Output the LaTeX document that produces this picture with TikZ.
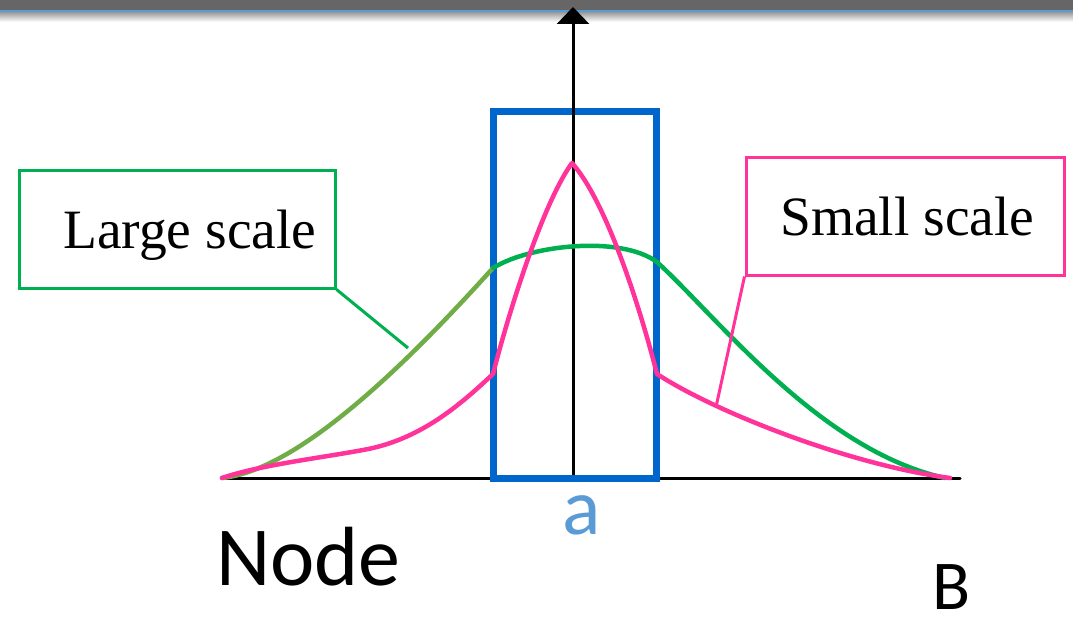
\documentclass[tikz,border=0pt]{standalone}
\usepackage{fontspec}
\setmainfont{Liberation Serif}
\newfontfamily\calfont{Carlito}
\usetikzlibrary{arrows.meta}
\definecolor{pinkc}{HTML}{FF3399}
\definecolor{greenc}{HTML}{00B050}
\definecolor{olivec}{HTML}{70AD47}
\definecolor{bluec}{HTML}{0066CC}
\definecolor{lblue}{HTML}{5B9BD5}
\definecolor{barc}{HTML}{666666}
\begin{document}
\begin{tikzpicture}[x=1pt,y=-1pt,
  axisline/.style={line width=3pt,black,line cap=round},
  curveline/.style={line width=4.5pt,line join=round,line cap=round},
  calloutbox/.style={draw,line width=3pt,inner sep=0pt,minimum height=118pt},
  seriflabel/.style={font=\fontsize{55.5}{60}\selectfont,inner sep=0pt,anchor=base west},
  sanslabel/.style={inner sep=0pt},
  pointer/.style={line width=3pt}]
\useasboundingbox (0,0) rectangle (1073,618);
% top bar
\fill[barc] (0,0) rectangle (1073,11);
\shade[top color=black!40,bottom color=white] (0,12) rectangle (1073,22);
\fill[lblue] (0,10.5) rectangle (1073,12.5);
% horizontal axis
\draw[axisline] (222,478) -- (960,478);
% blue window
\draw[bluec,line width=7pt] (493,111.5) rectangle (656.5,478.5);
% vertical axis
\draw[line width=3pt,-{Triangle[width=32pt,length=17pt]}] (573,475) -- (573,7);
% green curve
\draw[curveline,olivec] (222,478) .. controls (300,470) and (410,360) .. (493,268);
\draw[curveline,greenc] (493,268) .. controls (530,245) and (620,235) .. (657,262)
  .. controls (720,320) and (820,450) .. (945,478);
% pink curve
\draw[curveline,pinkc] (222,478) .. controls (260,465) and (320,458) .. (363,450)
  .. controls (420,440) and (460,405) .. (493,374)
  .. controls (512,300) and (545,200) .. (572,163)
  .. controls (605,200) and (638,300) .. (657,374)
  .. controls (715,412) and (850,465) .. (950,478);
% callouts
\node[calloutbox,greenc,minimum width=316pt] (lg) at (177,229) {};
\node[seriflabel] (lgt) at (63,248) {Large scale};
\coordinate (lgp) at (408,348);
\draw[pointer,greenc] (lg.south east) -- (lgp);
\node[calloutbox,pinkc,minimum width=318pt] (sm) at (905,216) {};
\node[seriflabel] (smt) at (780,235) {Small scale};
\coordinate (smp) at (716,407);
\draw[pointer,pinkc] (sm.south west) -- (smp);
% labels
\node[sanslabel,anchor=base west,font=\calfont\fontsize{84}{90}\selectfont] (nd) at (216,585) {Node};
\node[sanslabel,anchor=base,text=lblue,font=\calfont\fontsize{80}{86}\selectfont] (la) at (582,534) {a};
\node[sanslabel,anchor=base west,font=\calfont\fontsize{70}{76}\selectfont] (lb) at (932,609) {B};
\end{tikzpicture}
\end{document}
